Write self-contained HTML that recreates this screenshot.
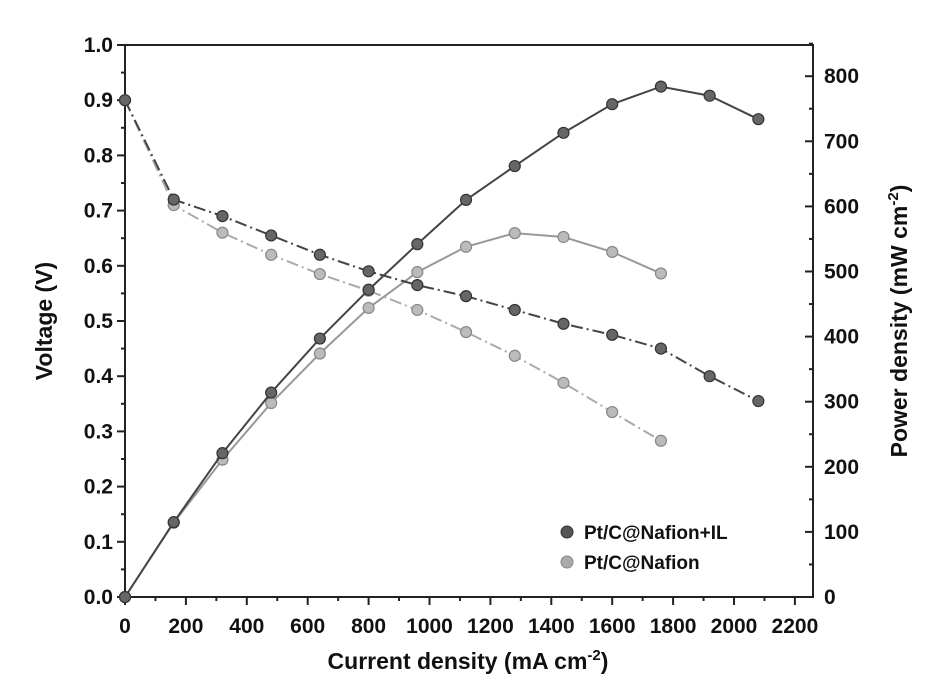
<!DOCTYPE html>
<html><head><meta charset="utf-8"><style>body{margin:0;background:#fff}svg{display:block}text{font-family:"Liberation Sans",Arial,sans-serif;font-weight:bold;fill:#111}</style></head>
<body>
<svg width="927" height="689" viewBox="0 0 927 689" xmlns="http://www.w3.org/2000/svg">
<rect x="125" y="45" width="688" height="552" fill="none" stroke="#222" stroke-width="2"/>
<g stroke="#222" stroke-width="2" id="ticks"></g>
<text x="468" y="669" font-size="23" text-anchor="middle">Current density (mA cm<tspan font-size="15" dy="-9">-2</tspan><tspan dy="9">)</tspan></text>
<text transform="translate(52,321) rotate(-90)" font-size="23" text-anchor="middle">Voltage (V)</text>
<text transform="translate(907,321) rotate(-90)" font-size="23" text-anchor="middle">Power density (mW cm<tspan font-size="15" dy="-9">-2</tspan><tspan dy="9">)</tspan></text>
<circle cx="567" cy="532" r="6" fill="#555" stroke="#333"/>
<text x="584" y="539" font-size="19">Pt/C@Nafion+IL</text>
<circle cx="567" cy="562" r="6" fill="#aaa" stroke="#888"/>
<text x="584" y="569" font-size="19">Pt/C@Nafion</text>
<script>
const NS="http://www.w3.org/2000/svg";
const X=i=>125+i*0.3045, YV=v=>597-v*552, YP=p=>597-p*0.651;
function el(t,a,p){const e=document.createElementNS(NS,t);for(const k in a)if(k!='text')e.setAttribute(k,a[k]);(p||document.querySelector('svg')).appendChild(e);if('text' in a)e.textContent=String(a.text);return e;}
const tk=document.getElementById('ticks');
for(let i=0;i<=2200;i+=100){const x=X(i);el('line',{x1:x,x2:x,y1:597,y2:i%200?601:605},tk);
 if(i%200==0)el('text',{x:x,y:633,'font-size':21,'text-anchor':'middle',text:i});}
for(let k=0;k<=20;k++){const y=597-k*27.6;el('line',{x1:125,x2:k%2?121:117,y1:y,y2:y},tk);
 if(k%2==0)el('text',{x:113,y:y+7,'font-size':21,'text-anchor':'end',text:(k/20).toFixed(1)});}
for(let p=0;p<=850;p+=50){const y=YP(p);el('line',{x1:813,x2:p%100?809:805,y1:y,y2:y},tk);
 if(p%100==0)el('text',{x:824,y:y+7,'font-size':21,text:p});}
const I1=[0,160,320,480,640,800,960,1120,1280,1440,1600,1760,1920,2080];
const V1=[0.9,0.72,0.69,0.655,0.62,0.59,0.565,0.545,0.52,0.495,0.475,0.45,0.4,0.355];
const P1=[0,115,221,314,397,472,542,610,662,713,757,784,770,734];
const I2=I1.slice(0,12);
const V2=[0.9,0.71,0.66,0.62,0.585,0.555,0.52,0.48,0.437,0.388,0.335,0.283];
const P2=[0,114,211,298,374,444,499,538,559,553,530,497];
function series(I,Y,col,dash,mc,ms){el('polyline',{points:I.map((x,j)=>X(x)+','+Y[j]).join(' '),fill:'none',stroke:col,'stroke-width':2,'stroke-dasharray':dash});
 I.forEach((x,j)=>el('circle',{cx:X(x),cy:Y[j],r:5.5,fill:mc,stroke:ms,'stroke-width':1.2}));}
series(I2,P2.map(YP),'#999','none','#bbb','#888');
series(I2,V2.map(YV),'#aaa','12 4 2 4','#bbb','#888');
series(I1,P1.map(YP),'#444','none','#666','#333');
series(I1,V1.map(YV),'#444','12 4 2 4','#666','#333');
</script>
</svg>
</body></html>
